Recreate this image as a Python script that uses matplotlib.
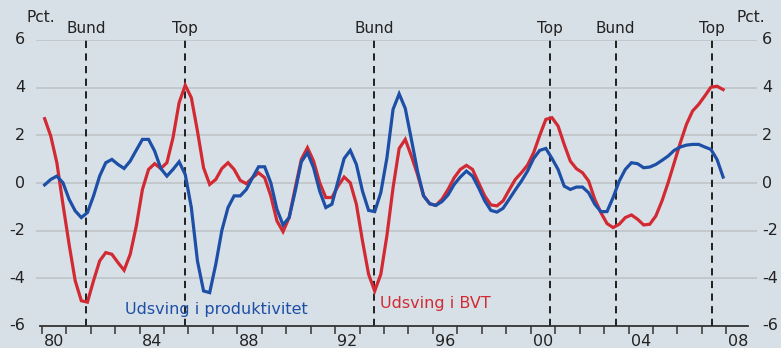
import numpy as np
import matplotlib
matplotlib.use("Agg")
import matplotlib.pyplot as plt

# quarterly, 1980Q1 .. 2007Q4
start_year = 1980
bvt = [2.7, 1.97, 0.85, -0.9, -2.57, -4.1, -4.94, -5.0,
       -4.1, -3.27, -2.92, -2.99, -3.34, -3.66, -2.99, -1.8,
       -0.27, 0.57, 0.81, 0.61, 0.85, 1.9, 3.37, 4.1,
       3.58, 2.18, 0.64, -0.06, 0.15, 0.61, 0.85, 0.57,
       0.11, -0.03, 0.22, 0.43, 0.22, -0.54, -1.59, -2.04,
       -1.45, -0.2, 0.99, 1.48, 0.92, 0.01, -0.61, -0.61,
       -0.13, 0.25, 0.01, -0.89, -2.43, -3.83, -4.53, -3.83,
       -2.2, -0.2, 1.45, 1.83, 1.13, 0.36, -0.54, -0.87,
       -0.94, -0.68, -0.27, 0.22, 0.57, 0.74, 0.57, 0.01,
       -0.54, -0.92, -0.96, -0.75, -0.29, 0.15, 0.43, 0.75,
       1.27, 2.0, 2.67, 2.74, 2.39, 1.62, 0.92, 0.6,
       0.43, 0.08, -0.68, -1.24, -1.7, -1.87, -1.73, -1.45,
       -1.34, -1.52, -1.76, -1.73, -1.38, -0.75, 0.01, 0.85,
       1.69, 2.46, 3.02, 3.3, 3.65, 4.02, 4.06, 3.92]
prod = [-0.08, 0.15, 0.29, 0.01, -0.68, -1.17, -1.45, -1.24,
        -0.54, 0.29, 0.85, 0.99, 0.78, 0.61, 0.92, 1.38,
        1.83, 1.83, 1.34, 0.61, 0.29, 0.57, 0.89, 0.36,
        -1.03, -3.27, -4.53, -4.6, -3.41, -1.98, -1.03, -0.54,
        -0.54, -0.27, 0.22, 0.68, 0.68, 0.01, -1.1, -1.76,
        -1.45, -0.34, 0.89, 1.27, 0.64, -0.34, -1.03, -0.89,
        0.08, 1.03, 1.37, 0.78, -0.34, -1.15, -1.2, -0.4,
        1.06, 3.09, 3.74, 3.13, 1.83, 0.5, -0.54, -0.87,
        -0.94, -0.78, -0.5, -0.06, 0.25, 0.5, 0.29, -0.2,
        -0.75, -1.15, -1.22, -1.06, -0.68, -0.29, 0.08, 0.5,
        1.03, 1.37, 1.45, 1.03, 0.57, -0.13, -0.27, -0.17,
        -0.17, -0.41, -0.89, -1.2, -1.2, -0.61, 0.08, 0.57,
        0.85, 0.81, 0.64, 0.67, 0.78, 0.95, 1.13, 1.37,
        1.51, 1.59, 1.62, 1.62, 1.51, 1.41, 0.99, 0.25]

# turning points (decimal years)
turn_x = [1981.82, 1985.87, 1993.59, 2000.79, 2003.47, 2007.4]
turn_lbl = ["Bund", "Top", "Bund", "Top", "Bund", "Top"]

year_ticks = list(range(1980, 2009))
year_lbls = ["80", "84", "88", "92", "96", "00", "04", "08"]
y_ticks = [-6, -4, -2, 0, 2, 4, 6]

BG = "#d8e0e7"
RED = "#d22a33"
BLUE = "#1d4fa6"
TXT = "#222222"

t = start_year + 0.12 + 0.25 * np.arange(len(bvt))

fig = plt.figure(figsize=(7.81, 3.48), dpi=100, facecolor=BG)
ax = fig.add_axes([36 / 781, 1 - 326 / 348, (757 - 36) / 781, (326 - 40) / 348])
ax.set_facecolor(BG)

x0 = 1980 - 5.7 / 24.45
x1 = x0 + (757 - 36) / 24.45
ax.set_xlim(x0, x1)
ax.set_ylim(-6, 6)

for v in y_ticks[1:]:
    ax.axhline(v, color="#bfc4c8", lw=1.2, zorder=1)

for xv in turn_x:
    ax.plot([xv, xv], [-6, 6], color="#111111", lw=1.3, ls=(0, (4, 3)), zorder=2)
for xv, lb in zip(turn_x, turn_lbl):
    ax.text(xv, 6.15, lb, ha="center", va="bottom", fontsize=11, color=TXT)

ax.plot(t, bvt, color=RED, lw=2.3, zorder=3, solid_joinstyle="miter")
ax.plot(t, prod, color=BLUE, lw=2.3, zorder=4, solid_joinstyle="miter")

ax.text(1983.4, -5.3, "Udsving i produktivitet", color=BLUE, fontsize=11.5, va="center")
ax.text(1993.85, -5.05, "Udsving i BVT", color=RED, fontsize=11.5, va="center")

for s in ["top", "left", "right"]:
    ax.spines[s].set_visible(False)
ax.spines["bottom"].set_bounds(1979.95, 2008.9)
ax.spines["bottom"].set_color("#333333")
ax.spines["bottom"].set_linewidth(1.3)

ax.set_xticks(year_ticks)
ax.set_xticklabels([])
ax.tick_params(axis="x", length=6, width=1.1, color="#333333", direction="out")
for i, lb in enumerate(year_lbls):
    ax.text(1980.5 + 4 * i, -6.35, lb, ha="center", va="top", fontsize=11.5, color=TXT)

# y labels on both sides, placed in figure pixels horizontally
ax.set_yticks([])
yt_left = matplotlib.transforms.blended_transform_factory(fig.dpi_scale_trans, ax.transData)
for v in y_ticks:
    ax.text(25 / 100, v, str(v), transform=yt_left, ha="right", va="center",
            fontsize=11.5, color=TXT)
    ax.text(762 / 100, v, str(v), transform=yt_left, ha="left", va="center",
            fontsize=11.5, color=TXT, clip_on=False)

fig.text(26 / 781, 1 - 17 / 348, "Pct.", fontsize=11, color=TXT, va="center", ha="left")
fig.text(765 / 781, 1 - 17 / 348, "Pct.", fontsize=11, color=TXT, va="center", ha="right")

fig.savefig("out.png", dpi=100, facecolor=BG)
